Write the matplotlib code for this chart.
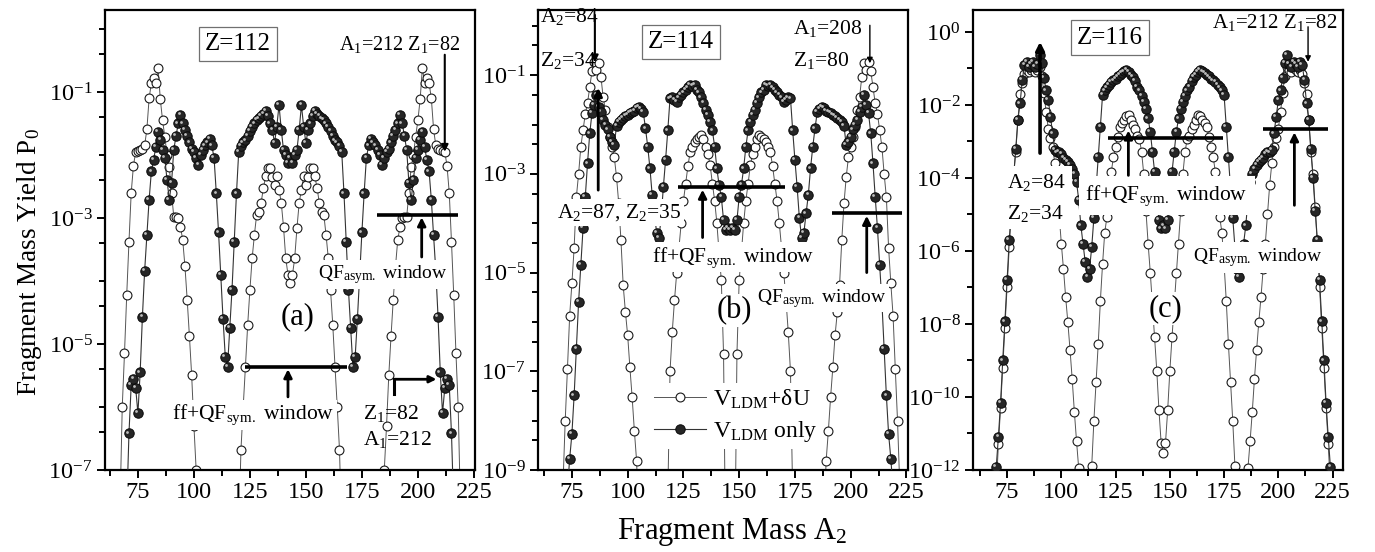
import numpy as np
import matplotlib
matplotlib.use("Agg")
import matplotlib.pyplot as plt
from matplotlib.ticker import FixedLocator, MultipleLocator, NullFormatter, LogFormatterSciNotation
from matplotlib.transforms import ScaledTranslation

plt.rcParams.update({
    "font.family": ["Liberation Serif", "DejaVu Serif"],
    "mathtext.fontset": "custom",
    "mathtext.rm": "Liberation Serif",
    "mathtext.it": "Liberation Serif:italic",
    "mathtext.bf": "Liberation Serif:bold",
    "axes.unicode_minus": False,
})

# ---------------- data: fragment mass A2 and log10 of yield P0 ----------------
# Z = 112, V_LDM + dU (open circles)
a112_open = [*range(67, 103), *range(120, 167), *range(184, 220)]
p112_open = [-7.6, -6.0, -5.15, -4.22, -3.38, -2.6, -2.17, -1.95, -1.93, -1.92, -1.9, -1.85,
             -1.59, -1.1, -0.86, -0.78, -0.86, -0.62, -1.12, -1.45, -1.71, -2.0, -2.19, -2.6,
             -2.98, -2.98, -3.0, -3.14, -3.35, -3.77, -4.3, -4.88, -5.5, -6.3, -7.0, -8.0,
             -8.0, -6.68, -6.0, -5.36, -4.7, -4.14, -3.64, -3.27, -2.95, -2.9, -2.76, -2.53,
             -2.34, -2.2, -2.2, -2.35, -2.48, -2.34, -2.55, -2.76, -3.14, -3.64, -3.9, -4.04,
             -3.9, -3.64, -3.16, -2.76, -2.55, -2.34, -2.48, -2.35, -2.2, -2.2, -2.34, -2.53,
             -2.76, -2.9, -2.95, -3.27, -3.64, -4.14, -4.7, -5.36, -6.0, -6.68, -8.0,
             -8.0, -7.0, -6.3, -5.5, -4.88, -4.3, -3.77, -3.35, -3.14, -3.0, -2.98, -2.98,
             -2.6, -2.19, -2.0, -1.71, -1.45, -1.12, -0.62, -0.86, -0.78, -0.86, -1.1, -1.59,
             -1.85, -1.9, -1.92, -1.93, -1.95, -2.17, -2.6, -3.38, -4.22, -5.15, -6.0, -7.6]
# Z = 112, V_LDM only (filled balls)
a112_full = [*range(70, 217)]
p112_full = [-7.6, -6.42, -5.65, -5.55, -5.7, -6.1, -5.45, -4.57, -3.84, -3.27, -2.71, -2.26,
             -2.08, -1.87, -1.63, -1.76, -1.92, -2.05, -2.4, -2.71, -2.45, -1.92, -1.7, -1.5,
             -1.37, -1.5, -1.6, -1.7, -1.8, -1.9, -1.95, -2.05, -2.16, -2.0, -1.92, -1.85,
             -1.8, -1.75, -1.85, -2.05, -2.61, -3.23, -3.9, -4.6, -5.2, -5.37, -4.75, -4.14,
             -3.38, -2.61, -1.95, -1.86, -1.8, -1.77, -1.7, -1.62, -1.55, -1.5, -1.45, -1.42,
             -1.38, -1.35, -1.3, -1.38, -1.5, -1.6, -1.81, -1.55, -1.21, -1.6, -1.92, -2.0,
             -2.13, -2.05, -2.13, -2.0, -1.92, -1.6, -1.21, -1.55, -1.81, -1.6, -1.5, -1.38,
             -1.3, -1.35, -1.38, -1.42, -1.45, -1.5, -1.55, -1.62, -1.7, -1.77, -1.8, -1.86,
             -1.95, -2.61, -3.38, -4.14, -4.75, -5.37, -5.2, -4.6, -3.9, -3.23, -2.61, -2.05,
             -1.85, -1.75, -1.8, -1.85, -1.92, -2.0, -2.16, -2.05, -1.95, -1.9, -1.8, -1.7,
             -1.6, -1.5, -1.37, -1.5, -1.7, -1.92, -2.45, -2.71, -2.4, -2.05, -1.92, -1.76,
             -1.63, -1.87, -2.08, -2.26, -2.71, -3.27, -3.84, -4.57, -5.45, -6.1, -5.7, -5.55,
             -5.65, -6.42, -7.6]

# Z = 114, V_LDM + dU
a114_open = [*range(71, 106), *range(118, 175), *range(188, 223)]
p114_open = [-9.3, -8.0, -6.95, -5.87, -5.22, -4.5, -3.47, -3.0, -2.45, -2.12, -1.78, -1.57,
             -1.24, -0.92, -0.73, -0.9, -0.75, -1.03, -1.44, -1.71, -2.05, -2.25, -2.45, -2.66,
             -3.06, -3.6, -4.35, -5.26, -5.8, -6.27, -6.92, -7.52, -8.2, -8.81, -10.0,
             -9.5, -7.0, -6.2, -5.56, -5.0, -4.5, -4.0, -3.55, -3.2, -2.85, -2.56, -2.45,
             -2.35, -2.3, -2.25, -2.22, -2.3, -2.45, -2.6, -2.83, -3.2, -3.54, -4.0, -4.6,
             -5.16, -6.65, -11.0, -12.0, -12.3, -12.0, -11.0, -6.65, -5.16, -4.6, -4.0, -3.54,
             -3.2, -2.83, -2.6, -2.45, -2.3, -2.22, -2.25, -2.3, -2.35, -2.45, -2.56, -2.85,
             -3.2, -3.55, -4.0, -4.5, -5.0, -5.56, -6.2, -7.0, -9.5,
             -10.0, -8.81, -8.2, -7.52, -6.92, -6.27, -5.8, -5.26, -4.35, -3.6, -3.06, -2.66,
             -2.45, -2.25, -2.05, -1.71, -1.44, -1.03, -0.75, -0.9, -0.73, -0.92, -1.24, -1.57,
             -1.78, -2.12, -2.45, -3.0, -3.47, -4.5, -5.22, -5.87, -6.95, -8.0, -9.3]
# Z = 114, V_LDM only
a114_full = [*range(73, 220)]
p114_full = [-9.4, -8.77, -8.27, -7.49, -6.54, -5.6, -4.85, -4.1, -3.47, -2.79, -2.18, -1.77,
             -1.6, -1.4, -1.64, -1.75, -1.9, -2.0, -2.1, -2.25, -2.35, -2.42, -2.03, -1.95,
             -1.9, -1.87, -1.83, -1.8, -1.77, -1.75, -1.72, -1.67, -1.65, -1.68, -1.75, -2.08,
             -2.45, -2.89, -3.43, -3.8, -4.2, -4.3, -3.9, -3.27, -2.72, -2.12, -1.47, -1.45,
             -1.5, -1.55, -1.45, -1.4, -1.35, -1.3, -1.25, -1.2, -1.22, -1.2, -1.3, -1.35,
             -1.45, -1.57, -1.71, -1.8, -1.95, -2.12, -2.45, -2.89, -3.23, -3.47, -3.94, -4.14,
             -4.1, -4.14, -4.1, -4.14, -3.94, -3.47, -3.23, -2.89, -2.45, -2.12, -1.95, -1.8,
             -1.71, -1.57, -1.45, -1.35, -1.3, -1.2, -1.22, -1.2, -1.25, -1.3, -1.35, -1.4,
             -1.45, -1.55, -1.5, -1.45, -1.47, -2.12, -2.72, -3.27, -3.9, -4.3, -4.2, -3.8,
             -3.43, -2.89, -2.45, -2.08, -1.75, -1.68, -1.65, -1.67, -1.72, -1.75, -1.77, -1.8,
             -1.83, -1.87, -1.9, -1.95, -2.03, -2.42, -2.35, -2.25, -2.1, -2.0, -1.9, -1.75,
             -1.64, -1.4, -1.6, -1.77, -2.18, -2.79, -3.47, -4.1, -4.85, -5.6, -6.54, -7.49,
             -8.27, -8.77, -9.4]

# Z = 116, V_LDM + dU
a116_open = [*range(70, 110), *range(113, 182), *range(185, 225)]
p116_open = [-12.5, -11.3, -10.3, -9.2, -8.1, -7.0, -5.9, -4.8, -3.9, -3.3, -2.4, -1.7,
             -1.4, -1.15, -1.05, -1.1, -1.05, -1.0, -1.1, -1.05, -0.95, -1.2, -1.68, -2.2,
             -2.65, -2.9, -3.15, -3.6, -4.2, -5.0, -5.8, -6.5, -7.27, -7.95, -8.7, -9.5,
             -10.4, -11.2, -11.95, -13.0,
             -13.0, -11.9, -10.66, -9.6, -8.55, -7.36, -6.36, -5.5, -5.07, -4.3, -3.84, -3.44,
             -3.15, -2.88, -2.6, -2.5, -2.4, -2.3, -2.28, -2.4, -2.55, -2.65, -2.85, -2.92,
             -3.3, -3.9, -4.9, -5.8, -6.6, -7.5, -8.37, -9.29, -10.37, -11.26, -11.53, -11.26,
             -10.37, -9.29, -8.37, -7.5, -6.6, -5.8, -4.9, -3.9, -3.3, -2.92, -2.85, -2.65,
             -2.55, -2.4, -2.28, -2.3, -2.4, -2.5, -2.6, -2.88, -3.15, -3.44, -3.84, -4.3,
             -5.07, -5.5, -6.36, -7.36, -8.55, -9.6, -10.66, -11.9, -13.0,
             -13.0, -11.95, -11.2, -10.4, -9.5, -8.7, -7.95, -7.27, -6.5, -5.8, -5.0, -4.2,
             -3.6, -3.15, -2.9, -2.65, -2.2, -1.68, -1.2, -0.95, -1.05, -1.1, -1.0, -1.05,
             -1.1, -1.05, -1.15, -1.4, -1.7, -2.4, -3.3, -3.9, -4.8, -5.9, -7.0, -8.1,
             -9.2, -10.3, -11.3, -12.5]
# Z = 116, V_LDM only
a116_full = [*range(69, 226)]
p116_full = [-12.6, -11.92, -11.1, -10.16, -9.0, -7.93, -6.79, -5.7, -4.9, -4.0, -3.2, -2.4,
             -1.96, -1.32, -0.9, -0.82, -0.95, -0.88, -0.82, -0.95, -0.88, -0.63, -0.85, -1.27,
             -1.6, -1.87, -2.33, -2.78, -3.24, -3.3, -3.28, -3.35, -3.45, -3.5, -3.55, -3.65,
             -3.75, -3.9, -4.1, -4.6, -5.3, -5.8, -6.3, -6.7, -6.5, -5.9, -5.1, -4.3,
             -3.43, -2.6, -1.73, -1.6, -1.52, -1.45, -1.38, -1.33, -1.28, -1.22, -1.17, -1.12,
             -1.08, -1.04, -1.1, -1.18, -1.23, -1.35, -1.5, -1.6, -1.75, -1.91, -2.1, -2.37,
             -2.74, -3.29, -3.84, -4.5, -5.16, -5.38, -5.3, -5.38, -5.16, -4.5, -3.84, -3.29,
             -2.74, -2.37, -2.1, -1.91, -1.75, -1.6, -1.5, -1.35, -1.23, -1.18, -1.1, -1.04,
             -1.08, -1.12, -1.17, -1.22, -1.28, -1.33, -1.38, -1.45, -1.52, -1.6, -1.73, -2.6,
             -3.43, -4.3, -5.1, -5.9, -6.5, -6.7, -6.3, -5.8, -5.3, -4.6, -4.1, -3.9,
             -3.75, -3.65, -3.55, -3.5, -3.45, -3.35, -3.28, -3.3, -3.24, -2.78, -2.33, -1.87,
             -1.6, -1.27, -0.85, -0.63, -0.88, -0.95, -0.82, -0.88, -0.95, -0.82, -0.9, -1.32,
             -1.96, -2.4, -3.2, -4.0, -4.9, -5.7, -6.79, -7.93, -9.0, -10.16, -11.1, -11.92,
             -12.6]

# ---------------- figure ----------------
W, H = 1375, 552
fig = plt.figure(figsize=(W / 100, H / 100), dpi=100)


def add_panel(left, right, top=10, bottom=470):
    return fig.add_axes([left / W, 1 - bottom / H, (right - left) / W, (bottom - top) / H])


def draw_series(ax, a, logp, filled, label):
    y = 10.0 ** np.asarray(logp)
    if filled:
        ax.plot(a, y, "-o", color="#333333", lw=0.8, ms=6.8, mfc="#262626", mec="#0a0a0a",
                mew=0.7, zorder=3, label=label)
        shine = ax.transData + ScaledTranslation(-1.3 / 72, 1.3 / 72, fig.dpi_scale_trans)
        ax.plot(a, y, "o", ms=2.0, color="#bdbdbd", mew=0, transform=shine, zorder=3.5)
    else:
        ax.plot(a, y, "-o", color="#555555", lw=0.7, ms=6.4, mfc="white", mec="#1a1a1a",
                mew=0.8, zorder=2, label=label)


def style(ax, xlim, ylo, yhi, labeled, minor):
    ax.set_yscale("log")
    ax.set_xlim(*xlim)
    ax.set_ylim(10.0 ** ylo, 10.0 ** yhi)
    ax.xaxis.set_major_locator(FixedLocator([75, 100, 125, 150, 175, 200, 225]))
    ax.xaxis.set_minor_locator(MultipleLocator(12.5))
    ax.yaxis.set_major_locator(FixedLocator([10.0 ** k for k in labeled]))
    ax.yaxis.set_major_formatter(LogFormatterSciNotation())
    ax.yaxis.set_minor_locator(FixedLocator(minor))
    ax.yaxis.set_minor_formatter(NullFormatter())
    ax.tick_params(which="both", direction="out", top=False, right=False, labelsize=17.5,
                   width=1.4)
    ax.tick_params(which="major", length=6, pad=3)
    ax.tick_params(which="minor", length=4)
    for s in ax.spines.values():
        s.set_linewidth(1.6)


def bar(ax, x0, x1, ylog, lw=2.6):
    ax.plot([x0, x1], [10.0 ** ylog] * 2, color="k", lw=lw, solid_capstyle="butt", zorder=8)


def arrow(ax, x0, y0, x1, y1, lw=2.0, head=12):
    ax.annotate("", xy=(x1, 10.0 ** y1), xytext=(x0, 10.0 ** y0), zorder=8,
                arrowprops=dict(arrowstyle="-|>", color="k", lw=lw, mutation_scale=head,
                                shrinkA=0, shrinkB=0))


def text(ax, x, ylog, s, size=15.5, ha="center", box=True, pad=2.0):
    bb = dict(facecolor="white", edgecolor="none", pad=pad) if box else None
    ax.text(x, 10.0 ** ylog, s, ha=ha, va="center", fontsize=size, zorder=7, bbox=bb)


def zbox(ax, x, ylog, s):
    ax.text(x, 10.0 ** ylog, s, ha="center", va="center", fontsize=18, zorder=7,
            bbox=dict(facecolor="white", edgecolor="#707070", lw=0.9, pad=4.5))


def decade_ticks(lo, hi):
    # a tick on every decade plus one at 0.4 of each decade
    out = []
    for k in range(lo, hi + 1):
        out += [10.0 ** k, 0.4 * 10.0 ** k]
    return out


lab_open = r"V$_{\rm LDM}$+δU"
lab_full = r"V$_{\rm LDM}$ only"
ff_lab = r"ff+QF$_{\rm sym.}$ window"
qf_lab = r"QF$_{\rm asym.}$ window"

# ---- (a) Z = 112
ax1 = add_panel(105, 475)
draw_series(ax1, a112_open, p112_open, False, lab_open)
draw_series(ax1, a112_full, p112_full, True, lab_full)
style(ax1, (60.3, 225.5), -7, 0.30, [-1, -3, -5, -7], decade_ticks(-7, 0))
zbox(ax1, 119.6, -0.24, "Z=112")
text(ax1, 218.8, -0.24, r"A$_1$=212 Z$_1$=82", size=14.5, ha="right", box=False)
arrow(ax1, 212, -0.41, 212, -1.95, lw=1.5, head=10)
bar(ax1, 181.7, 217.9, -2.95)
arrow(ax1, 201.7, -3.62, 201.7, -2.99)
text(ax1, 184.1, -3.9, qf_lab, size=14)
text(ax1, 146.4, -4.57, "(a)", size=22, pad=1.0)
bar(ax1, 122.8, 168.3, -5.37)
arrow(ax1, 142, -5.84, 142, -5.40)
text(ax1, 126.6, -6.13, ff_lab)
text(ax1, 175.4, -6.1, r"Z$_1$=82", ha="left", box=False)
text(ax1, 175.4, -6.52, r"A$_1$=212", ha="left", box=False)
ax1.plot([189.4, 189.4], [10 ** -5.79, 10 ** -5.56], color="k", lw=2.2, zorder=8)
arrow(ax1, 189.4, -5.56, 208.3, -5.56, lw=2.0, head=10)

# ---- (b) Z = 114
ax2 = add_panel(538, 908)
draw_series(ax2, a114_open, p114_open, False, lab_open)
draw_series(ax2, a114_full, p114_full, True, lab_full)
style(ax2, (59.8, 225.7), -9, 0.32, [-1, -3, -5, -7, -9], decade_ticks(-9, 0))
zbox(ax2, 123.9, -0.33, "Z=114")
text(ax2, 60.6, 0.18, r"A$_2$=84", ha="left", box=False)
text(ax2, 60.6, -0.70, r"Z$_2$=34", ha="left", box=False)
arrow(ax2, 85.3, 0.22, 85.3, -0.74, lw=1.5, head=10)
arrow(ax2, 86.8, -3.33, 86.8, -1.26, lw=2.0)
text(ax2, 96.1, -3.78, r"A$_2$=87, Z$_2$=35")
text(ax2, 174.1, -0.05, r"A$_1$=208", ha="left", box=False)
text(ax2, 174.1, -0.70, r"Z$_1$=80", ha="left", box=False)
arrow(ax2, 208.6, 0.01, 208.6, -0.76, lw=1.0, head=8)
bar(ax2, 122.5, 170.5, -3.27)
arrow(ax2, 133.6, -4.29, 133.6, -3.32)
text(ax2, 147.4, -4.69, ff_lab)
bar(ax2, 191.6, 223.0, -3.80)
arrow(ax2, 207.2, -5.0, 207.2, -3.85)
text(ax2, 186.9, -5.52, qf_lab, size=14)
text(ax2, 147.9, -5.77, "(b)", size=22, pad=1.0)
leg = ax2.legend(loc="upper left", bbox_to_anchor=(0.30, 0.19), fontsize=17, frameon=True,
                 handlelength=2.2, handletextpad=0.3, labelspacing=0.35, borderpad=0.2,
                 borderaxespad=0.0)
leg.get_frame().set_edgecolor("none")
leg.get_frame().set_facecolor("white")
leg.get_frame().set_alpha(1.0)
leg.set_zorder(9)

# ---- (c) Z = 116
ax3 = add_panel(973, 1343)
draw_series(ax3, a116_open, p116_open, False, lab_open)
draw_series(ax3, a116_full, p116_full, True, lab_full)
style(ax3, (59.3, 229.8), -12, 0.60, [0, -2, -4, -6, -8, -10, -12],
      [10.0 ** k for k in (-1, -3, -5, -7, -9, -11)])
zbox(ax3, 122.5, -0.16, "Z=116")
text(ax3, 169.5, 0.27, r"A$_1$=212 Z$_1$=82", size=15, ha="left", box=False)
arrow(ax3, 213.7, 0.14, 213.7, -0.82, lw=1.0, head=8)
arrow(ax3, 90.2, -3.32, 90.2, -0.27, lw=2.6)
text(ax3, 75.0, -4.12, r"A$_2$=84", ha="left", pad=4)
text(ax3, 75.0, -4.97, r"Z$_2$=34", ha="left", pad=4)
bar(ax3, 121.4, 174.7, -2.90)
arrow(ax3, 130.9, -3.93, 130.9, -2.70)
text(ax3, 148.5, -4.48, ff_lab, pad=5)
bar(ax3, 193.0, 223.0, -2.66)
arrow(ax3, 207.4, -4.75, 207.4, -2.75)
text(ax3, 190.4, -6.18, qf_lab, size=14, pad=3)
text(ax3, 148.0, -7.58, "(c)", size=22, pad=1.5)

fig.text(30 / W, 1 - 262 / H, r"Fragment Mass Yield P$_0$", rotation=90, ha="center",
         va="center", fontsize=19.5)
fig.text(732 / W, 1 - 532 / H, r"Fragment Mass A$_2$", ha="center", va="center", fontsize=22)

fig.savefig("out.png", dpi=100)
